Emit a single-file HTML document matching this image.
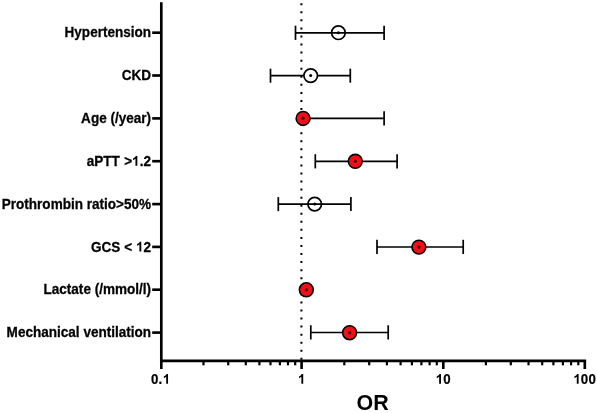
<!DOCTYPE html>
<html>
<head>
<meta charset="utf-8">
<title>Forest plot</title>
<style>
html,body{margin:0;padding:0;background:#fff;}
body{width:597px;height:413px;overflow:hidden;}
svg{display:block;will-change:transform;}
text{font-family:"Liberation Sans",sans-serif;font-weight:bold;fill:#000;}
.lab{font-size:13.55px;stroke:#000;stroke-width:0.25px;text-anchor:end;}
.tk{font-size:12.7px;stroke:#000;stroke-width:0.25px;text-anchor:middle;}
.tk2{font-size:13.3px;stroke:#000;stroke-width:0.2px;text-anchor:start;}
.ax{stroke:#000;stroke-width:2.65;fill:none;}
.eb{stroke:#000;stroke-width:1.7;fill:none;}
.oc{stroke:#000;stroke-width:1.7;fill:#fff;}
.rc{stroke:#000;stroke-width:1.55;fill:#f40c16;}
</style>
</head>
<body>
<svg width="597" height="413" viewBox="0 0 597 413">
<rect width="597" height="413" fill="#fff"/>

<!-- dotted reference line -->
<line x1="301.4" y1="3.25" x2="301.4" y2="360" stroke="#000" stroke-width="2" stroke-dasharray="2 6.058"/>

<!-- axes -->
<line class="ax" x1="161.3" y1="2.2" x2="161.3" y2="362.3"/>
<line class="ax" x1="160" y1="360.9" x2="586.1" y2="360.9"/>

<!-- y ticks -->
<g class="ax">
<line x1="152.2" y1="32.7" x2="161" y2="32.7"/>
<line x1="152.2" y1="75.5" x2="161" y2="75.5"/>
<line x1="152.2" y1="118.4" x2="161" y2="118.4"/>
<line x1="152.2" y1="161.2" x2="161" y2="161.2"/>
<line x1="152.2" y1="204.1" x2="161" y2="204.1"/>
<line x1="152.2" y1="246.9" x2="161" y2="246.9"/>
<line x1="152.2" y1="289.7" x2="161" y2="289.7"/>
<line x1="152.2" y1="332.6" x2="161" y2="332.6"/>
</g>

<!-- x major ticks -->
<g class="ax">
<line x1="161.3" y1="360" x2="161.3" y2="369"/>
<line x1="301.6" y1="360" x2="301.6" y2="369"/>
<line x1="443.3" y1="360" x2="443.3" y2="369"/>
<line x1="584.8" y1="360" x2="584.8" y2="369"/>
</g>
<!-- x minor ticks -->
<g class="ax" style="stroke-width:2.2">
<line x1="203.5" y1="360" x2="203.5" y2="365.3"/>
<line x1="228.2" y1="360" x2="228.2" y2="365.3"/>
<line x1="245.8" y1="360" x2="245.8" y2="365.3"/>
<line x1="259.4" y1="360" x2="259.4" y2="365.3"/>
<line x1="270.5" y1="360" x2="270.5" y2="365.3"/>
<line x1="279.9" y1="360" x2="279.9" y2="365.3"/>
<line x1="288.0" y1="360" x2="288.0" y2="365.3"/>
<line x1="295.2" y1="360" x2="295.2" y2="365.3"/>
<line x1="344.3" y1="360" x2="344.3" y2="365.3"/>
<line x1="369.2" y1="360" x2="369.2" y2="365.3"/>
<line x1="386.9" y1="360" x2="386.9" y2="365.3"/>
<line x1="400.6" y1="360" x2="400.6" y2="365.3"/>
<line x1="411.9" y1="360" x2="411.9" y2="365.3"/>
<line x1="421.4" y1="360" x2="421.4" y2="365.3"/>
<line x1="429.6" y1="360" x2="429.6" y2="365.3"/>
<line x1="436.8" y1="360" x2="436.8" y2="365.3"/>
<line x1="485.9" y1="360" x2="485.9" y2="365.3"/>
<line x1="510.8" y1="360" x2="510.8" y2="365.3"/>
<line x1="528.5" y1="360" x2="528.5" y2="365.3"/>
<line x1="542.2" y1="360" x2="542.2" y2="365.3"/>
<line x1="553.4" y1="360" x2="553.4" y2="365.3"/>
<line x1="562.9" y1="360" x2="562.9" y2="365.3"/>
<line x1="571.1" y1="360" x2="571.1" y2="365.3"/>
<line x1="578.3" y1="360" x2="578.3" y2="365.3"/>
</g>

<!-- labels -->
<text class="lab" transform="translate(151.1,37.2) scale(1,1.06)">Hypertension</text>
<text class="lab" transform="translate(151.1,80.1) scale(1,1.06)">CKD</text>
<text class="lab" transform="translate(151.1,122.9) scale(1,1.06)">Age (/year)</text>
<text class="lab" transform="translate(132.07,165.8) scale(1,1.06)">aPTT<tspan dx="0.6"> &gt;</tspan></text><path transform="translate(132.00,165.85) scale(0.00662,-0.00672)" d="M806 0L525 0L525 1059Q371 915 162 846L162 1101Q272 1137 401 1237.5Q530 1338 578 1472L806 1472Z"/><text class="lab" transform="translate(151.1,165.8) scale(1,1.06)">.2</text>
<text class="lab" transform="translate(151.1,208.6) scale(1,1.06)">Prothrombin ratio&gt;50%</text>
<text class="lab" transform="translate(132.07,251.5) scale(1,1.06)">GCS &lt;</text><path transform="translate(135.95,251.55) scale(0.00662,-0.00672)" d="M806 0L525 0L525 1059Q371 915 162 846L162 1101Q272 1137 401 1237.5Q530 1338 578 1472L806 1472Z"/><text class="lab" transform="translate(151.1,251.5) scale(1,1.06)">2</text>
<text class="lab" transform="translate(151.1,294.3) scale(1,1.06)">Lactate (/mmol/l)</text>
<text class="lab" transform="translate(151.1,337.1) scale(1,1.06)">Mechanical ventilation</text>


<text class="tk2" transform="translate(150.90,383.7) scale(1,1.06)">0</text>
<text class="tk2" transform="translate(158.40,383.7) scale(1,1.06)">.</text>
<path transform="translate(162.80,383.75) scale(0.00649,-0.0066)" d="M806 0L525 0L525 1059Q371 915 162 846L162 1101Q272 1137 401 1237.5Q530 1338 578 1472L806 1472Z"/>
<path transform="translate(297.98,383.75) scale(0.00649,-0.0066)" d="M806 0L525 0L525 1059Q371 915 162 846L162 1101Q272 1137 401 1237.5Q530 1338 578 1472L806 1472Z"/>
<path transform="translate(435.74,383.75) scale(0.00649,-0.0066)" d="M806 0L525 0L525 1059Q371 915 162 846L162 1101Q272 1137 401 1237.5Q530 1338 578 1472L806 1472Z"/>
<text class="tk2" transform="translate(443.14,383.7) scale(1,1.06)">0</text>
<path transform="translate(573.38,383.75) scale(0.00649,-0.0066)" d="M806 0L525 0L525 1059Q371 915 162 846L162 1101Q272 1137 401 1237.5Q530 1338 578 1472L806 1472Z"/>
<text class="tk2" transform="translate(580.74,383.7) scale(1,1.06)">0</text>
<text class="tk2" transform="translate(588.39,383.7) scale(1,1.06)">0</text>
<text transform="translate(372.6,409.5) scale(1,1.04)" style="font-size:21.5px;text-anchor:middle">OR</text>

<!-- data rows -->
<!-- Hypertension -->
<g class="eb"><line x1="295.5" y1="32.8" x2="384.1" y2="32.8"/><line x1="295.5" y1="25.7" x2="295.5" y2="39.9"/><line x1="384.1" y1="25.7" x2="384.1" y2="39.9"/></g>
<circle cx="338.4" cy="32.7" r="6.8" class="eb"/>
<circle cx="338.4" cy="32.7" r="1.5" fill="#000"/>

<!-- CKD -->
<g class="eb"><line x1="270.5" y1="75.7" x2="350.3" y2="75.7"/><line x1="270.5" y1="68.7" x2="270.5" y2="82.7"/><line x1="350.3" y1="68.7" x2="350.3" y2="82.7"/></g>
<circle cx="310.7" cy="75.6" r="6.8" class="oc"/>
<circle cx="310.7" cy="75.6" r="1.5" fill="#000"/>

<!-- Age -->
<g class="eb"><line x1="303" y1="118.3" x2="384.1" y2="118.3"/><line x1="384.1" y1="111.2" x2="384.1" y2="125.4"/></g>
<circle cx="303.1" cy="118.4" r="6.95" class="rc"/>
<circle cx="303" cy="118.2" r="1.6" fill="#3a0000"/>

<!-- aPTT -->
<g class="eb"><line x1="315.3" y1="161.3" x2="397.1" y2="161.3"/><line x1="315.3" y1="154.2" x2="315.3" y2="168.4"/><line x1="397.1" y1="154.2" x2="397.1" y2="168.4"/></g>
<circle cx="355.3" cy="161.3" r="6.95" class="rc"/>
<circle cx="355.3" cy="161.3" r="1.6" fill="#3a0000"/>

<!-- Prothrombin -->
<g class="eb"><line x1="278.3" y1="204.1" x2="350.9" y2="204.1"/><line x1="278.3" y1="197.1" x2="278.3" y2="211.1"/><line x1="350.9" y1="197.1" x2="350.9" y2="211.1"/></g>
<circle cx="314.7" cy="204.1" r="6.8" class="eb"/>
<circle cx="314.7" cy="204.1" r="1.5" fill="#000"/>

<!-- GCS -->
<g class="eb"><line x1="377" y1="247" x2="463.2" y2="247"/><line x1="377" y1="239.8" x2="377" y2="254"/><line x1="463.2" y1="239.8" x2="463.2" y2="254"/></g>
<circle cx="418.9" cy="247.1" r="6.95" class="rc"/>
<circle cx="418.9" cy="247.1" r="1.6" fill="#3a0000"/>

<!-- Lactate -->
<circle cx="306.3" cy="289.8" r="6.95" class="rc"/>
<circle cx="306.3" cy="289.8" r="1.6" fill="#3a0000"/>

<!-- Mechanical ventilation -->
<g class="eb"><line x1="310.8" y1="332.5" x2="388.2" y2="332.5"/><line x1="310.8" y1="325.3" x2="310.8" y2="339.5"/><line x1="388.2" y1="325.3" x2="388.2" y2="339.5"/></g>
<circle cx="349.6" cy="332.7" r="6.95" class="rc"/>
<circle cx="349.6" cy="332.7" r="1.6" fill="#3a0000"/>

</svg>
</body>
</html>
